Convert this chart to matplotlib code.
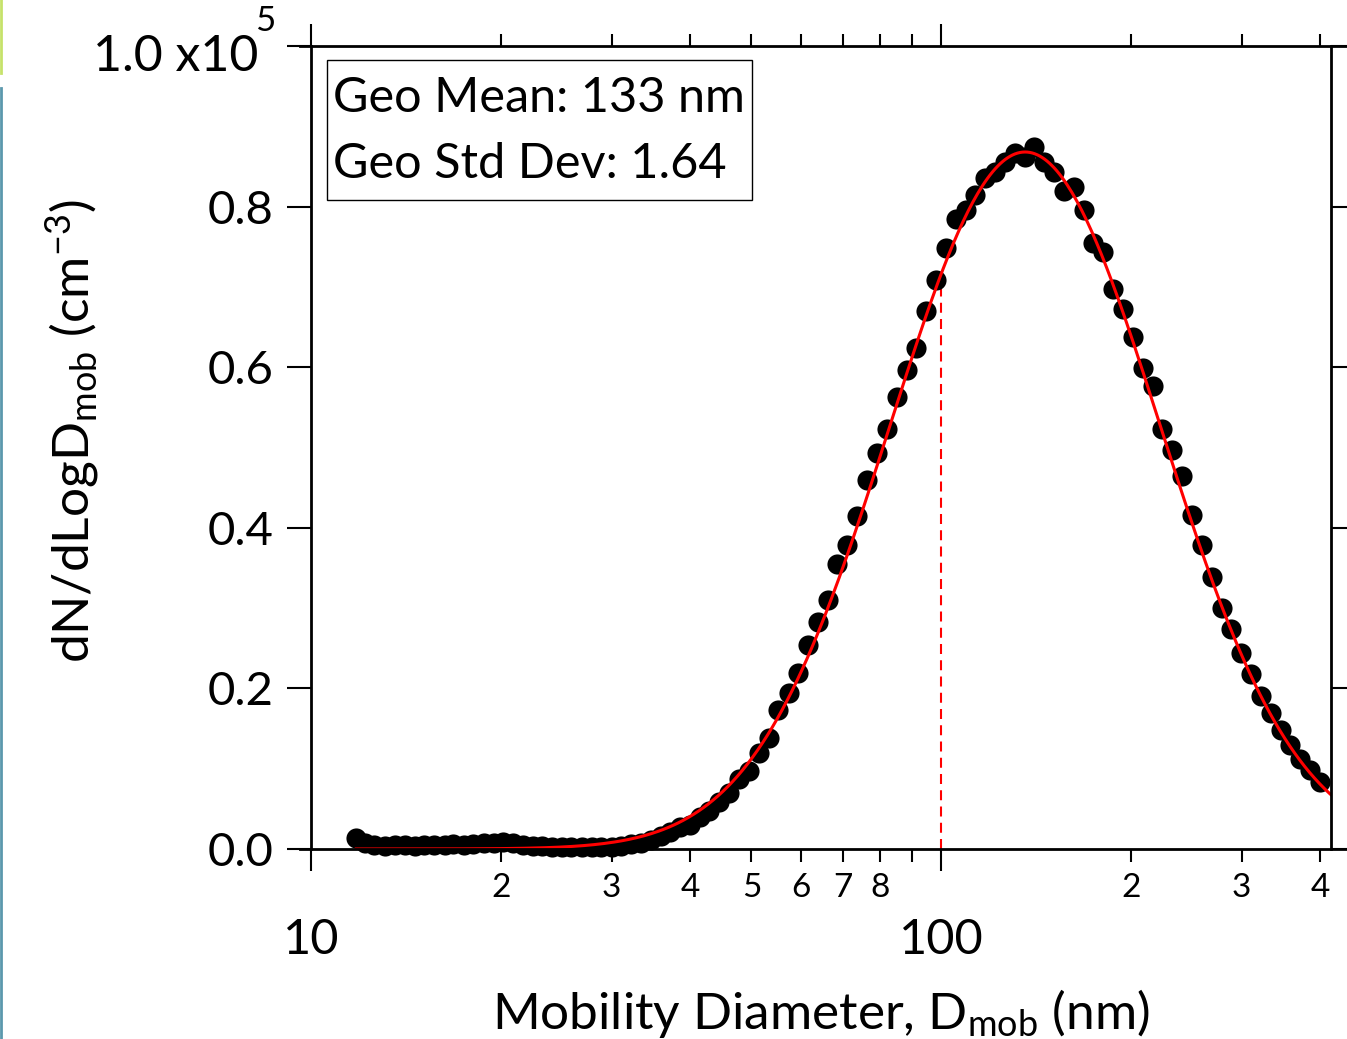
import numpy as np
import matplotlib
matplotlib.use("Agg")
import matplotlib.pyplot as plt
from matplotlib.lines import Line2D
from matplotlib.patches import Rectangle

plt.rcParams['font.family'] = ['Lato', 'DejaVu Sans']
plt.rcParams['mathtext.fontset'] = 'custom'
plt.rcParams['mathtext.rm'] = 'Lato'
plt.rcParams['mathtext.it'] = 'Lato:italic'
plt.rcParams['mathtext.bf'] = 'Lato:bold'

# SMPS channel midpoints (nm)
diam_nm = [
    11.8, 12.2, 12.6, 13.1, 13.6, 14.1, 14.6, 15.1, 15.7, 16.3,
    16.8, 17.5, 18.1, 18.8, 19.5, 20.2, 20.9, 21.7, 22.5, 23.3,
    24.1, 25.0, 25.9, 26.9, 27.9, 28.9, 30.0, 31.1, 32.2, 33.4,
    34.6, 35.9, 37.2, 38.5, 40.0, 41.4, 42.9, 44.5, 46.1, 47.8,
    49.6, 51.4, 53.3, 55.2, 57.3, 59.4, 61.5, 63.8, 66.1, 68.5,
    71.0, 73.6, 76.3, 79.1, 82.0, 85.0, 88.2, 91.4, 94.7, 98.2,
    101.8, 105.5, 109.4, 113.4, 117.6, 121.9, 126.3, 131.0, 135.8, 140.7,
    145.9, 151.2, 156.8, 162.5, 168.5, 174.6, 181.0, 187.7, 194.5, 201.7,
    209.0, 216.7, 224.6, 232.9, 241.4, 250.2, 259.4, 268.9, 278.8, 289.0,
    299.5, 310.5, 321.9, 333.7, 345.9, 358.6, 371.7, 385.3, 399.4,
]

# measured dN/dlogD (cm^-3)
dndlogd = [
    1400, 800, 500, 400, 500, 500, 400, 500, 500, 500,
    600, 500, 600, 700, 800, 900, 700, 500, 400, 400,
    300, 300, 300, 200, 200, 200, 300, 400, 600, 800,
    1100, 1600, 2100, 2700, 3000, 4000, 4700, 5900, 7000, 8700,
    9700, 12000, 13800, 17300, 19400, 21900, 25400, 28300, 31000, 35500,
    37900, 41500, 45900, 49300, 52300, 56300, 59700, 62400, 67000, 70800,
    74800, 78400, 79600, 81500, 83500, 84300, 85600, 86700, 86200, 87400,
    85600, 84300, 81900, 82400, 79600, 75500, 74300, 69800, 67200, 63700,
    59900, 57600, 52300, 49700, 46400, 41600, 37800, 33900, 30000, 27400,
    24400, 21800, 19100, 16900, 14800, 13000, 11200, 9800, 8300,
]

# summary statistics of the distribution
geo_mean_nm = 133
geo_std = 1.64

# lognormal fit curve (peak position and height of the fitted mode)
fit_mode_nm = 136
fit_peak = 86800

# marker for the 100 nm reference line
ref_diam = 100
ref_top = 71000

x_range = (10, 416)
y_ticks = [0, 20000, 40000, 60000, 80000, 100000]
y_tick_labels = ['0.0', '0.2', '0.4', '0.6', '0.8', '']
x_major = [10, 100]
x_major_labels = ['10', '100']
x_minor = [20, 30, 40, 50, 60, 70, 80, 90, 200, 300, 400]
x_minor_labels = ['2', '3', '4', '5', '6', '7', '8', '', '2', '3', '4']

fig = plt.figure(figsize=(13.47, 10.39), dpi=100)
ax = fig.add_axes([311 / 1347, 190 / 1039, 1020 / 1347, 803 / 1039])

ax.set_xscale('log')
ax.set_xlim(*x_range)
ax.set_ylim(0, 100000)

# fitted lognormal curve
d_fit = np.logspace(np.log10(diam_nm[0]), np.log10(x_range[1] * 1.05), 400)
z = (np.log10(d_fit) - np.log10(fit_mode_nm)) / np.log10(geo_std)
fit = fit_peak * np.exp(-0.5 * z ** 2)

ax.vlines(ref_diam, 0, ref_top, colors='#ff0000', linewidth=1.5,
          linestyles=(0, (4.8, 3.0)), zorder=2)
ax.plot(diam_nm, dndlogd, 'o', color='black', markersize=14.5,
        markeredgewidth=0, zorder=3, clip_on=False)
ax.plot(d_fit, fit, color='#ff0000', linewidth=2.2, zorder=4)

# axis frame with a small overhang at each end
for s in ax.spines.values():
    s.set_visible(False)
ov_x = 11 / 1020
frame = [
    ([-ov_x, 1 + 16 / 1020], [0, 0]),
    ([-ov_x, 1 + 16 / 1020], [1, 1]),
    ([0, 0], [0, 1]),
    ([1, 1], [0, 1]),
]
for xs, ys in frame:
    ax.add_line(Line2D(xs, ys, transform=ax.transAxes, color='black',
                       linewidth=2.0, clip_on=False, zorder=5))

ax.set_xticks(x_major)
ax.set_xticklabels(x_major_labels)
ax.set_xticks(x_minor, minor=True)
ax.set_xticklabels(x_minor_labels, minor=True)
ax.set_yticks(y_ticks)
ax.set_yticklabels(y_tick_labels)
ax.yaxis.set_minor_locator(plt.NullLocator())

ax.tick_params(axis='x', which='major', direction='out', length=15.5, width=1.5,
               top=True, bottom=True, labelsize=35, pad=34)
ax.tick_params(axis='x', which='minor', direction='out', length=9, width=1.5,
               top=True, bottom=True, labelsize=24, pad=8)
ax.tick_params(axis='y', which='major', direction='out', length=17, width=1.5,
               left=True, right=True, labelsize=34, pad=10)

# top y label with its exponent
ax.annotate('1.0 x10', xy=(0, 1), xycoords='axes fraction', xytext=(-38, -8),
            textcoords='offset points', ha='right', va='center', fontsize=36)
ax.annotate('5', xy=(0, 1), xycoords='axes fraction', xytext=(-26, 18),
            textcoords='offset points', ha='right', va='center', fontsize=25)

ax.set_xlabel(r'Mobility Diameter, D$_{\mathrm{mob}}$ (nm)', fontsize=37, labelpad=18)
ax.set_ylabel(r'dN/dLogD$_{\mathrm{mob}}$ (cm$^{-3}$)', fontsize=37)
ax.yaxis.set_label_coords(-0.205, 0.52)

# fit summary box
ax.add_patch(Rectangle((16 / 1020, 649 / 803), 425 / 1020, 140 / 803,
                       transform=ax.transAxes, facecolor='white',
                       edgecolor='black', linewidth=1.0, zorder=6))
ax.text(22 / 1020, 737 / 803, f'Geo Mean: {geo_mean_nm} nm', transform=ax.transAxes,
        fontsize=35, va='baseline', ha='left', zorder=7)
ax.text(22 / 1020, 671 / 803, f'Geo Std Dev: {geo_std:.2f}', transform=ax.transAxes,
        fontsize=35, va='baseline', ha='left', zorder=7)

# coloured strips along the left edge
fig.add_artist(Line2D([0.001, 0.001], [1, 1 - 73 / 1039], transform=fig.transFigure,
                      color='#c6e26a', linewidth=2))
fig.add_artist(Line2D([0.001, 0.001], [1 - 88 / 1039, 0], transform=fig.transFigure,
                      color='#5b98ad', linewidth=2))

fig.savefig('out.png', dpi=100)
